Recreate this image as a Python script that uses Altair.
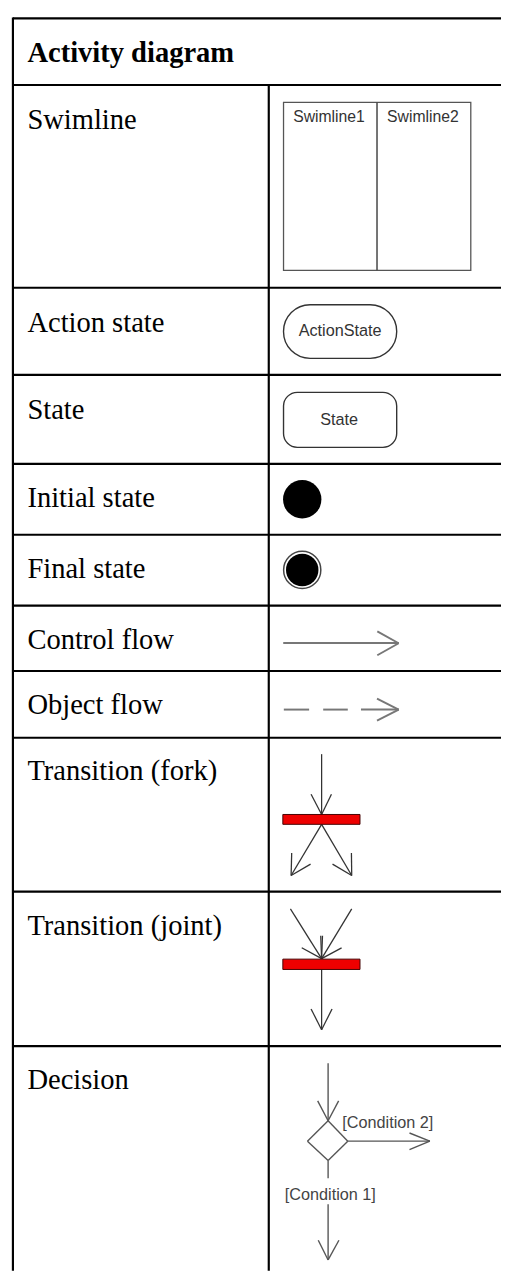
import altair as alt
import pandas as pd

# ---- page / view extent (image pixel coordinates) ----
X_DOMAIN = [8, 509]
Y_DOMAIN = [8, 1273]

# ---- table text ----
header_title = ["Activity diagram"]
header_x = [27.7]
header_base = [53]

row_labels = ["Swimline", "Action state", "State", "Initial state", "Final state",
              "Control flow", "Object flow", "Transition (fork)", "Transition (joint)", "Decision"]
label_x = [27.7] * 10
label_base = [120.7, 326.7, 415.7, 505, 576.7, 649.3, 715, 782.7, 940, 1096.7]

# ---- table grid ----
grid_x1 = [13, 13, 273] + [13] * 10
grid_y1 = [8.3, 7.5, 76] + [76, 282, 370.5, 461, 533, 605, 671.5, 739.3, 895.7, 1052.7]
grid_x2 = [509, 13, 273] + [509] * 10
grid_y2 = [8.3, 1281, 1281] + [76, 282, 370.5, 461, 533, 605, 671.5, 739.3, 895.7, 1052.7]

# ---- swimlane symbol ----
swim_box = dict(x=[288], x2=[478.3], y=[93.7], y2=[264.3])
swim_div = dict(x=[383], x2=[383], y=[93.7], y2=[264.3])
swim_names = ["Swimline1", "Swimline2"]
swim_name_x = [334.2, 429.7]
swim_name_base = [113.3, 113.3]

# ---- action state / state ----
action_box = dict(x=[288], x2=[403], y=[299.3], y2=[353.8])
action_text = ["ActionState"]
action_text_x = [345.5]
action_text_base = [331]
state_box = dict(x=[288], x2=[403], y=[388.3], y2=[444.2])
state_text = ["State"]
state_text_x = [344.5]
state_text_base = [421.5]

# ---- initial / final state ----
initial_x, initial_y = [307.0], [497.0]
final_x, final_y = [307.0], [568.8]

# ---- control / object flow (grey lines) ----
flow_x1 = [287.7, 383.3, 383.3, 288.3, 328.3, 366.7, 383.0, 383.0]
flow_y1 = [643.0, 631.3, 655.5, 710.7, 710.7, 710.7, 699.5, 721.9]
flow_x2 = [405.0, 405.0, 405.0, 314.0, 353.3, 405.0, 405.0, 405.0]
flow_y2 = [643.0, 643.3, 643.3, 710.7, 710.7, 710.7, 710.7, 710.7]

# ---- fork / join (dark lines) ----
bar_x1 = [287.3, 287.3]
bar_x2 = [365.7, 365.7]
bar_y1 = [817.3, 964.3]
bar_y2 = [827.3, 974.8]
fj_x1 = [326.7, 316.0, 336.7, 326.7, 326.7, 296.3, 315.5, 357.0, 337.8,
         295.0, 357.3, 306.5, 325.8, 347.0, 327.6, 326.7, 316.0, 337.3]
fj_y1 = [756.0, 796.7, 796.7, 827.3, 827.3, 856.5, 867.8, 856.5, 867.8,
         913.3, 913.3, 952.8, 940.5, 952.8, 940.5, 974.8, 1015.0, 1015.0]
fj_x2 = [326.7, 326.7, 326.7, 295.7, 357.3, 295.7, 295.7, 357.3, 357.3,
         326.7, 326.7, 326.7, 326.7, 326.7, 326.7, 326.7, 326.7, 326.7]
fj_y2 = [817.3, 817.3, 817.3, 879.3, 879.3, 879.3, 879.3, 879.3, 879.3,
         963.8, 963.8, 963.8, 963.8, 963.8, 963.8, 1036.0, 1036.0, 1036.0]

# ---- decision ----
dec_x1 = [333.3, 322.7, 344.0, 333.3, 353.3, 333.3, 312.3, 353.3, 416.0, 416.0, 333.3, 333.3, 323.3, 344.3]
dec_y1 = [1070.0, 1108.3, 1108.3, 1128.5, 1149.3, 1169.0, 1149.3, 1149.3, 1141.0, 1157.8, 1169.0, 1213.3, 1250.0, 1250.0]
dec_x2 = [333.3, 333.3, 333.3, 353.3, 333.3, 312.3, 333.3, 436.7, 436.7, 436.7, 333.3, 333.3, 333.3, 333.3]
dec_y2 = [1128.5, 1128.5, 1128.5, 1149.3, 1169.0, 1149.3, 1128.5, 1149.3, 1149.3, 1149.3, 1187.0, 1270.0, 1270.0, 1270.0]
cond_text = ["[Condition 2]", "[Condition 1]"]
cond_x = [347.7, 289.3]
cond_base = [1136, 1209]

# ---------------------------------------------------------------
def X(f="x"):
    return alt.X(f"{f}:Q", scale=alt.Scale(domain=X_DOMAIN, nice=False, zero=False), axis=None)

def Y(f="y"):
    return alt.Y(f"{f}:Q", scale=alt.Scale(domain=Y_DOMAIN, nice=False, zero=False, reverse=True), axis=None)

def segs(x1, y1, x2, y2):
    return pd.DataFrame({"x": x1, "y": y1, "x2": x2, "y2": y2})

def rule_layer(df, **kw):
    return alt.Chart(df).mark_rule(**kw).encode(x=X(), y=Y(), x2="x2:Q", y2="y2:Q")

def rect_layer(d, **kw):
    return alt.Chart(pd.DataFrame(d)).mark_rect(**kw).encode(x=X(), y=Y(), x2="x2:Q", y2="y2:Q")

def text_layer(texts, xs, ys, **kw):
    df = pd.DataFrame({"t": texts, "x": xs, "y": ys})
    return alt.Chart(df).mark_text(baseline="alphabetic", **kw).encode(x=X(), y=Y(), text="t:N")

layers = []

# grid
layers.append(rule_layer(segs(grid_x1, grid_y1, grid_x2, grid_y2), color="#000000", strokeWidth=2.2))

# header and row labels
layers.append(text_layer(header_title, header_x, header_base, align="left",
                         font="Liberation Serif", fontSize=29, fontWeight="bold", color="#000000"))
layers.append(text_layer(row_labels, label_x, label_base, align="left",
                         font="Liberation Serif", fontSize=29, color="#000000"))

# swimlane
layers.append(rect_layer(swim_box, fill="white", stroke="#555555", strokeWidth=1.3))
layers.append(rule_layer(pd.DataFrame(swim_div), color="#444444", strokeWidth=1.5))
layers.append(text_layer(swim_names, swim_name_x, swim_name_base, align="center",
                         font="Liberation Sans", fontSize=16, color="#333333"))

# action state and state
layers.append(rect_layer(action_box, fill="white", stroke="#333333", strokeWidth=1.4, cornerRadius=27))
layers.append(text_layer(action_text, action_text_x, action_text_base, align="center",
                         font="Liberation Sans", fontSize=16.5, color="#333333"))
layers.append(rect_layer(state_box, fill="white", stroke="#333333", strokeWidth=1.4, cornerRadius=14))
layers.append(text_layer(state_text, state_text_x, state_text_base, align="center",
                         font="Liberation Sans", fontSize=16.5, color="#333333"))

# initial state
layers.append(alt.Chart(pd.DataFrame({"x": initial_x, "y": initial_y})).mark_point(
    shape="circle", filled=True, size=39 ** 2, color="#000000", opacity=1).encode(x=X(), y=Y()))
# final state
layers.append(alt.Chart(pd.DataFrame({"x": final_x, "y": final_y})).mark_point(
    shape="circle", filled=False, size=37.8 ** 2, stroke="#444444", strokeWidth=1.5, fill="white",
    opacity=1).encode(x=X(), y=Y()))
layers.append(alt.Chart(pd.DataFrame({"x": final_x, "y": final_y})).mark_point(
    shape="circle", filled=True, size=33 ** 2, color="#000000", opacity=1).encode(x=X(), y=Y()))

# control / object flow
layers.append(rule_layer(segs(flow_x1, flow_y1, flow_x2, flow_y2), color="#777777", strokeWidth=2))

# fork / join
layers.append(rule_layer(segs(fj_x1, fj_y1, fj_x2, fj_y2), color="#333333", strokeWidth=1.3))
layers.append(rect_layer(dict(x=bar_x1, x2=bar_x2, y=bar_y1, y2=bar_y2),
                         fill="#ee0000", stroke="#440000", strokeWidth=1))

# decision
layers.append(rule_layer(segs(dec_x1, dec_y1, dec_x2, dec_y2), color="#555555", strokeWidth=1.4))
layers.append(text_layer(cond_text, cond_x, cond_base, align="left",
                         font="Liberation Sans", fontSize=16.5, color="#444444"))

chart = alt.layer(*layers).properties(
    width=X_DOMAIN[1] - X_DOMAIN[0],
    height=Y_DOMAIN[1] - Y_DOMAIN[0],
    padding=0,
    autosize=alt.AutoSizeParams(type="none"),
).configure_view(strokeWidth=0)

chart.save("out.html", embed_options={"renderer": "svg", "actions": False})
